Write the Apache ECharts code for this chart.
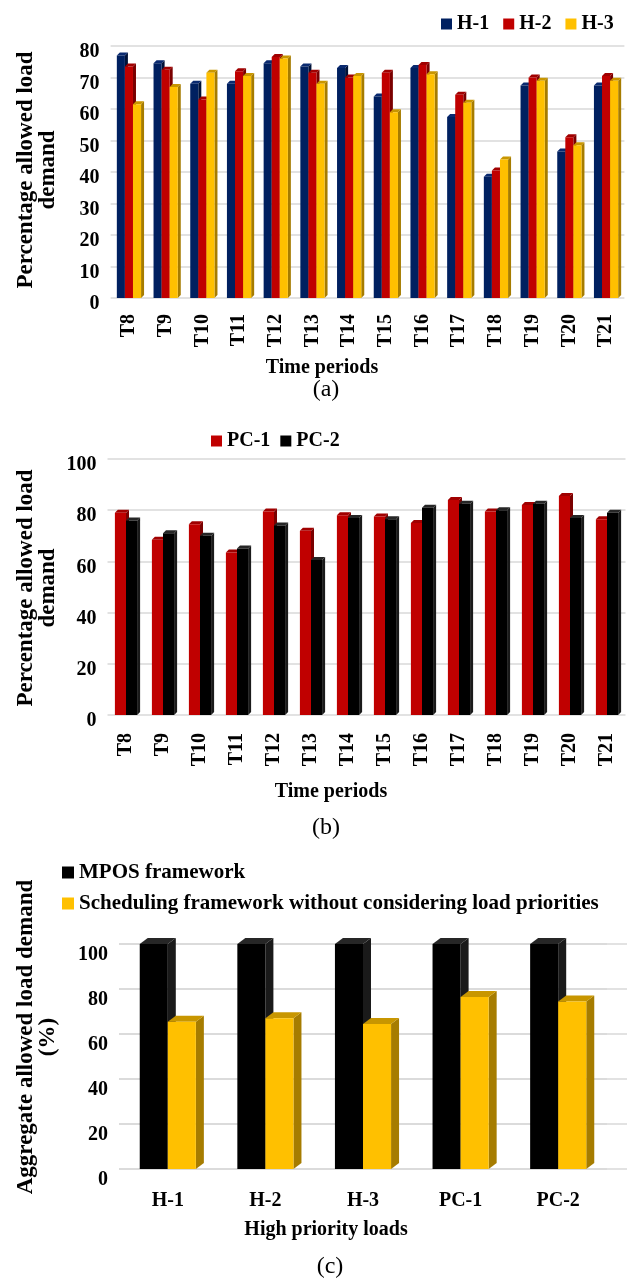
<!DOCTYPE html>
<html>
<head>
<meta charset="utf-8">
<script src="https://cdn.jsdelivr.net/npm/echarts@6/dist/echarts.min.js"></script>
<style>
  html, body { margin: 0; padding: 0; background: #fff; }
  #main { width: 627px; height: 1280px; }
</style>
</head>
<body>
<div id="main"></div>
<script>
// (a) heating loads per time period
const periods = ['T8', 'T9', 'T10', 'T11', 'T12', 'T13', 'T14', 'T15', 'T16', 'T17', 'T18', 'T19', 'T20', 'T21'];
const h1 = [77, 74.5, 68, 68, 74.5, 73.5, 73, 64, 73, 57.5, 38.5, 67.5, 46.5, 67.5];
const h2 = [73.5, 72.5, 63, 72, 76.5, 71.5, 70, 71.5, 74, 64.5, 40.5, 70, 51, 70.5];
const h3 = [61.5, 67, 71.5, 70.5, 76, 68, 70.5, 59, 71, 62, 44, 69, 48.5, 69];
// (b) PC loads
const pc1 = [79, 68.5, 74.5, 63.5, 79.5, 72, 78, 77.5, 75, 84, 79.5, 82, 85.5, 76.5];
const pc2 = [76, 71, 70, 65, 74, 60.5, 77, 76.5, 81, 82.5, 80, 82.5, 77, 79];
// (c) aggregate
const loads = ['H-1', 'H-2', 'H-3', 'PC-1', 'PC-2'];
const mpos = [100, 100, 100, 100, 100];
const noPriority = [65.5, 67, 64.5, 76.5, 74.5];

const FONT = 'Liberation Serif';
const txt = { fontFamily: FONT, fontWeight: 'bold', fontSize: 20, color: '#000' };

// pseudo 3D column drawn from the axis coords
function bar3d(k, n, frac, dx, dy, colors) {
  return function (params, api) {
    const i = api.value(0);
    const v = api.value(1);
    const base = api.coord([i, 0]);
    const top = api.coord([i, v]);
    const band = api.size([1, 0])[0];
    const w = band * frac / n;
    const x = base[0] - band * frac / 2 + k * w;
    return {
      type: 'group',
      children: [
        { type: 'polygon', shape: { points: [[x + w, top[1]], [x + w + dx, top[1] - dy], [x + w + dx, base[1] - dy], [x + w, base[1]]] }, style: { fill: colors[1] } },
        { type: 'polygon', shape: { points: [[x, top[1]], [x + dx, top[1] - dy], [x + w + dx, top[1] - dy], [x + w, top[1]]] }, style: { fill: colors[2] } },
        { type: 'rect', shape: { x: x, y: top[1], width: w, height: base[1] - top[1] }, style: { fill: colors[0] } }
      ]
    };
  };
}

function series3d(name, values, gridIdx, k, n, frac, dx, dy, colors) {
  return {
    name: name,
    type: 'custom',
    xAxisIndex: gridIdx,
    yAxisIndex: gridIdx,
    itemStyle: { color: colors[0] },
    encode: { x: 0, y: 1 },
    data: values.map((v, i) => [i, v]),
    renderItem: bar3d(k, n, frac, dx, dy, colors)
  };
}

const navy = ['#002060', '#001238', '#0a2a70'];
const red = ['#c00000', '#7a0000', '#a00000'];
const gold = ['#ffc000', '#a67c00', '#c89600'];
const black = ['#000000', '#1a1a1a', '#262626'];

function valueAxis(gridIdx, max, interval, shift, showLabel) {
  return {
    type: 'value', gridIndex: gridIdx, min: 0, max: max, interval: interval,
    axisLine: { show: false }, axisTick: { show: false },
    splitLine: { lineStyle: { color: '#d9d9d9', width: 1.5 } },
    axisLabel: Object.assign({ show: showLabel !== false, margin: 11, verticalAlign: 'top', lineHeight: shift * 2 }, txt)
  };
}

function catAxis(gridIdx, data, rotate, margin) {
  return {
    type: 'category', gridIndex: gridIdx, data: data,
    axisLine: { show: false }, axisTick: { show: false },
    axisLabel: Object.assign({ rotate: rotate, margin: margin, interval: 0 }, txt)
  };
}

function label(text, x, y, opts) {
  return {
    type: 'text', x: x, y: y, rotation: (opts && opts.rot) || 0,
    style: Object.assign({
      text: text, fill: '#000', font: 'bold 20px "Liberation Serif"',
      textAlign: 'center', textVerticalAlign: 'middle', lineHeight: 22
    }, opts && opts.style)
  };
}

const yName = { font: 'bold 23px "Liberation Serif"', lineHeight: 22 };
const caption = { font: '24px "Liberation Serif"' };

const chart = echarts.init(document.getElementById('main'));
chart.setOption({
  backgroundColor: '#fff',
  animation: false,
  grid: [
    { left: 110.6, right: 2.6, top: 46, bottom: 982 },
    { left: 107.5, right: 1.5, top: 459, bottom: 565 },
    { left: 119, right: 20, top: 944, bottom: 111 },
    // wider back wall for (c) gridlines
    { left: 119, right: 0, top: 944, bottom: 111 }
  ],
  xAxis: [
    catAxis(0, periods, 90, 16),
    catAxis(1, periods, 90, 18),
    catAxis(2, loads, 0, 22),
    { type: 'category', gridIndex: 3, data: loads, show: false }
  ],
  yAxis: [
    valueAxis(0, 80, 10, 6),
    valueAxis(1, 100, 20, 6),
    valueAxis(2, 100, 20, 11),
    valueAxis(3, 100, 20, 11, false)
  ],
  legend: [
    { data: ['H-1', 'H-2', 'H-3'], left: 436, top: 9, icon: 'rect', itemWidth: 11, itemHeight: 11, itemGap: 14, textStyle: txt },
    { data: ['PC-1', 'PC-2'], left: 206, top: 426, icon: 'rect', itemWidth: 11, itemHeight: 11, itemGap: 10, textStyle: txt },
    {
      data: ['MPOS framework', 'Scheduling framework without considering load priorities'],
      orient: 'vertical', left: 57, top: 857, icon: 'rect', itemWidth: 12, itemHeight: 12, itemGap: 10,
      textStyle: Object.assign({}, txt, { fontSize: 21 })
    }
  ],
  graphic: [
    label('Percentage allowed load\ndemand', 37, 170, { rot: Math.PI / 2, style: yName }),
    label('Time periods', 322, 368),
    label('(a)', 326, 390, { style: caption }),
    label('Percentage allowed load\ndemand', 37, 588, { rot: Math.PI / 2, style: yName }),
    label('Time periods', 331, 792),
    label('(b)', 326, 828, { style: caption }),
    label('Aggregate allowed load demand\n(%)', 37, 1037, { rot: Math.PI / 2, style: yName }),
    label('High priority loads', 326, 1230),
    label('(c)', 330, 1267, { style: caption })
  ],
  series: [
    series3d('H-1', h1, 0, 0, 3, 0.66, 3, 3, navy),
    series3d('H-2', h2, 0, 1, 3, 0.66, 3, 3, red),
    series3d('H-3', h3, 0, 2, 3, 0.66, 3, 3, gold),
    series3d('PC-1', pc1, 1, 0, 2, 0.6, 3, 3, red),
    series3d('PC-2', pc2, 1, 1, 2, 0.6, 3, 3, black),
    series3d('MPOS framework', mpos, 2, 0, 2, 0.575, 8, 6, black),
    series3d('Scheduling framework without considering load priorities', noPriority, 2, 1, 2, 0.575, 8, 6, gold)
  ]
});
</script>
</body>
</html>
